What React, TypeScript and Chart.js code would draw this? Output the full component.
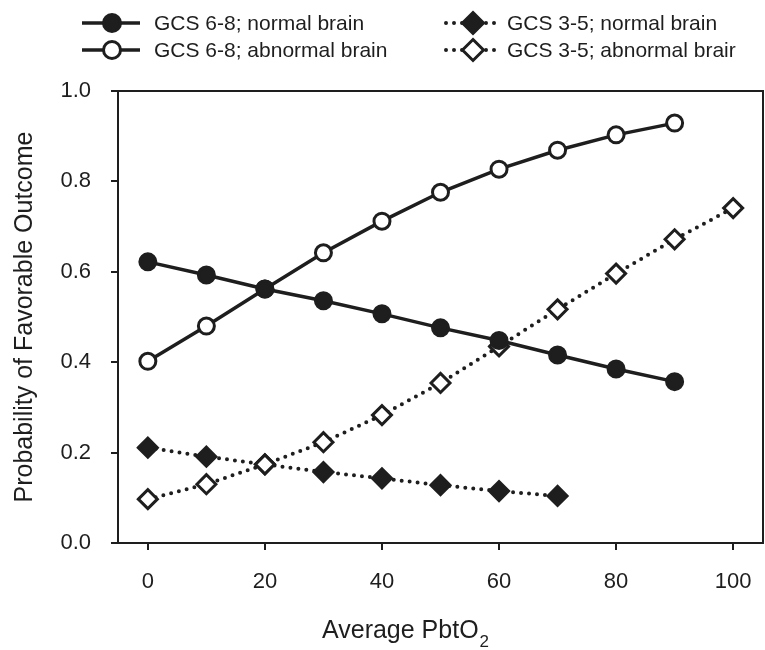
import React, { useEffect, useRef } from "react";
import { Chart, registerables } from "chart.js";

Chart.register(...registerables);

const xTicks = [0, 20, 40, 60, 80, 100];
const yTicks = [0, 0.2, 0.4, 0.6, 0.8, 1.0];

const xGcs68 = [0, 10, 20, 30, 40, 50, 60, 70, 80, 90];
const gcs68Normal = [0.622, 0.593, 0.562, 0.536, 0.507, 0.476, 0.448, 0.416, 0.385, 0.357];
const gcs68Abnormal = [0.402, 0.48, 0.562, 0.642, 0.712, 0.776, 0.827, 0.869, 0.903, 0.929];

const xGcs35Normal = [0, 10, 20, 30, 40, 50, 60, 70];
const gcs35Normal = [0.211, 0.191, 0.174, 0.157, 0.143, 0.128, 0.115, 0.104];

const xGcs35Abnormal = [0, 10, 20, 30, 40, 50, 60, 70, 80, 90, 100];
const gcs35Abnormal = [0.097, 0.13, 0.174, 0.223, 0.283, 0.354, 0.435, 0.517, 0.596, 0.672, 0.741];

const labels = [
  "GCS 6-8; normal brain",
  "GCS 6-8; abnormal brain",
  "GCS 3-5; normal brain",
  "GCS 3-5; abnormal brair",
];

const xTitleMain = "Average PbtO";
const xTitleSub = "2";
const yTitle = "Probability of Favorable Outcome";

const INK = "#1e1e1e";
const FONT = "'Liberation Sans', Arial, sans-serif";

function pts(xs: number[], ys: number[]) {
  return xs.map((x, i) => ({ x, y: ys[i] }));
}

const legendPlugin = {
  id: "customLegend",
  afterDraw(chart: any) {
    const ctx = chart.ctx;
    const positions = [
      { lx: 82, rx: 140, tx: 154, y: 23 },
      { lx: 82, rx: 140, tx: 154, y: 50 },
      { lx: 446, rx: 498, tx: 507, y: 23 },
      { lx: 446, rx: 498, tx: 507, y: 50 },
    ];
    chart.data.datasets.forEach((ds: any, i: number) => {
      const p = positions[i];
      ctx.save();
      ctx.strokeStyle = INK;
      ctx.lineWidth = ds.borderWidth;
      ctx.lineCap = ds.borderCapStyle || "butt";
      ctx.setLineDash(ds.borderDash || []);
      ctx.beginPath();
      ctx.moveTo(p.lx, p.y);
      ctx.lineTo(p.rx, p.y);
      ctx.stroke();
      ctx.setLineDash([]);
      const cx = (p.lx + p.rx) / 2 + 1;
      ctx.fillStyle = ds.pointBackgroundColor;
      ctx.lineWidth = ds.pointBorderWidth;
      ctx.beginPath();
      const r = ds.pointStyle === "circle" ? ds.pointRadius + 0.5 : ds.pointRadius + 1;
      if (ds.pointStyle === "circle") {
        ctx.arc(cx, p.y, r, 0, Math.PI * 2);
      } else {
        ctx.moveTo(cx, p.y - r);
        ctx.lineTo(cx + r, p.y);
        ctx.lineTo(cx, p.y + r);
        ctx.lineTo(cx - r, p.y);
        ctx.closePath();
      }
      ctx.fill();
      ctx.stroke();
      ctx.fillStyle = INK;
      ctx.font = `21px ${FONT}`;
      ctx.textBaseline = "middle";
      ctx.textAlign = "left";
      ctx.fillText(ds.label, p.tx, p.y + 1);
      ctx.restore();
    });
  },
};

const boxPlugin = {
  id: "box",
  afterDraw(chart: any) {
    const { ctx, chartArea: a } = chart;
    ctx.save();
    ctx.strokeStyle = INK;
    ctx.lineWidth = 2;
    ctx.strokeRect(a.left, a.top, a.right - a.left, a.bottom - a.top);
    // x axis title with a real subscript
    ctx.fillStyle = INK;
    ctx.textBaseline = "alphabetic";
    ctx.textAlign = "left";
    ctx.font = `25px ${FONT}`;
    const x0 = 322;
    const base = 638;
    ctx.fillText(xTitleMain, x0, base);
    const w = ctx.measureText(xTitleMain).width;
    ctx.font = `17px ${FONT}`;
    ctx.fillText(xTitleSub, x0 + w + 1, base + 9);
    ctx.restore();
  },
};

export default function App() {
  const ref = useRef<HTMLCanvasElement | null>(null);
  useEffect(() => {
    document.body.style.margin = "0";
    const solid = {
      borderColor: INK,
      borderWidth: 3.5,
      pointBorderColor: INK,
      pointBorderWidth: 3,
      pointRadius: 8,
      pointStyle: "circle",
      showLine: true,
      fill: false,
      tension: 0,
    };
    const dotted = {
      borderColor: INK,
      borderWidth: 4,
      borderDash: [0, 8],
      borderCapStyle: "round",
      pointBorderColor: INK,
      pointBorderWidth: 3,
      pointRadius: 9.5,
      pointStyle: "rectRot",
      showLine: true,
      fill: false,
      tension: 0,
    };
    const chart = new Chart(ref.current as HTMLCanvasElement, {
      type: "scatter",
      data: {
        datasets: [
          { ...solid, label: labels[0], data: pts(xGcs68, gcs68Normal), pointBackgroundColor: INK },
          { ...solid, label: labels[1], data: pts(xGcs68, gcs68Abnormal), pointBackgroundColor: "#ffffff" },
          { ...dotted, label: labels[2], data: pts(xGcs35Normal, gcs35Normal), pointBackgroundColor: INK, order: 2 },
          { ...dotted, label: labels[3], data: pts(xGcs35Abnormal, gcs35Abnormal), pointBackgroundColor: "#ffffff", order: 1 },
        ] as any,
      },
      options: {
        animation: false,
        responsive: false,
        layout: { autoPadding: false, padding: { top: 91, right: 2, left: 0, bottom: 0 } },
        plugins: {
          legend: { display: false },
          tooltip: { enabled: false },
        },
        scales: {
          x: {
            type: "linear",
            min: -5.1,
            max: 105.1,
            afterBuildTicks: (s: any) => {
              s.ticks = xTicks.map((v) => ({ value: v }));
            },
            afterFit: (s: any) => {
              s.height = 107;
              s.paddingLeft = 0;
              s.paddingRight = 0;
            },
            grid: { drawOnChartArea: false, drawTicks: true, tickLength: 7, color: INK, lineWidth: 2 },
            border: { display: true, color: INK, width: 2 },
            ticks: { color: INK, font: { family: FONT, size: 22 }, padding: 19, maxRotation: 0 },
            title: { display: false },
          },
          y: {
            type: "linear",
            min: 0,
            max: 1,
            afterBuildTicks: (s: any) => {
              s.ticks = yTicks.map((v) => ({ value: v }));
            },
            afterFit: (s: any) => {
              s.width = 118;
              s.paddingTop = 0;
              s.paddingBottom = 0;
            },
            grid: { drawOnChartArea: false, drawTicks: true, tickLength: 7, color: INK, lineWidth: 2 },
            border: { display: true, color: INK, width: 2 },
            ticks: {
              color: INK,
              font: { family: FONT, size: 22 },
              padding: 20,
              callback: (v: any) => Number(v).toFixed(1),
            },
            title: {
              display: true,
              text: yTitle,
              color: INK,
              font: { family: FONT, size: 25 },
              padding: { top: 10, bottom: 0 },
            },
          },
        },
      } as any,
      plugins: [legendPlugin, boxPlugin],
    });
    return () => chart.destroy();
  }, []);
  return <canvas ref={ref} width={765} height={650} style={{ display: "block" }} />;
}
